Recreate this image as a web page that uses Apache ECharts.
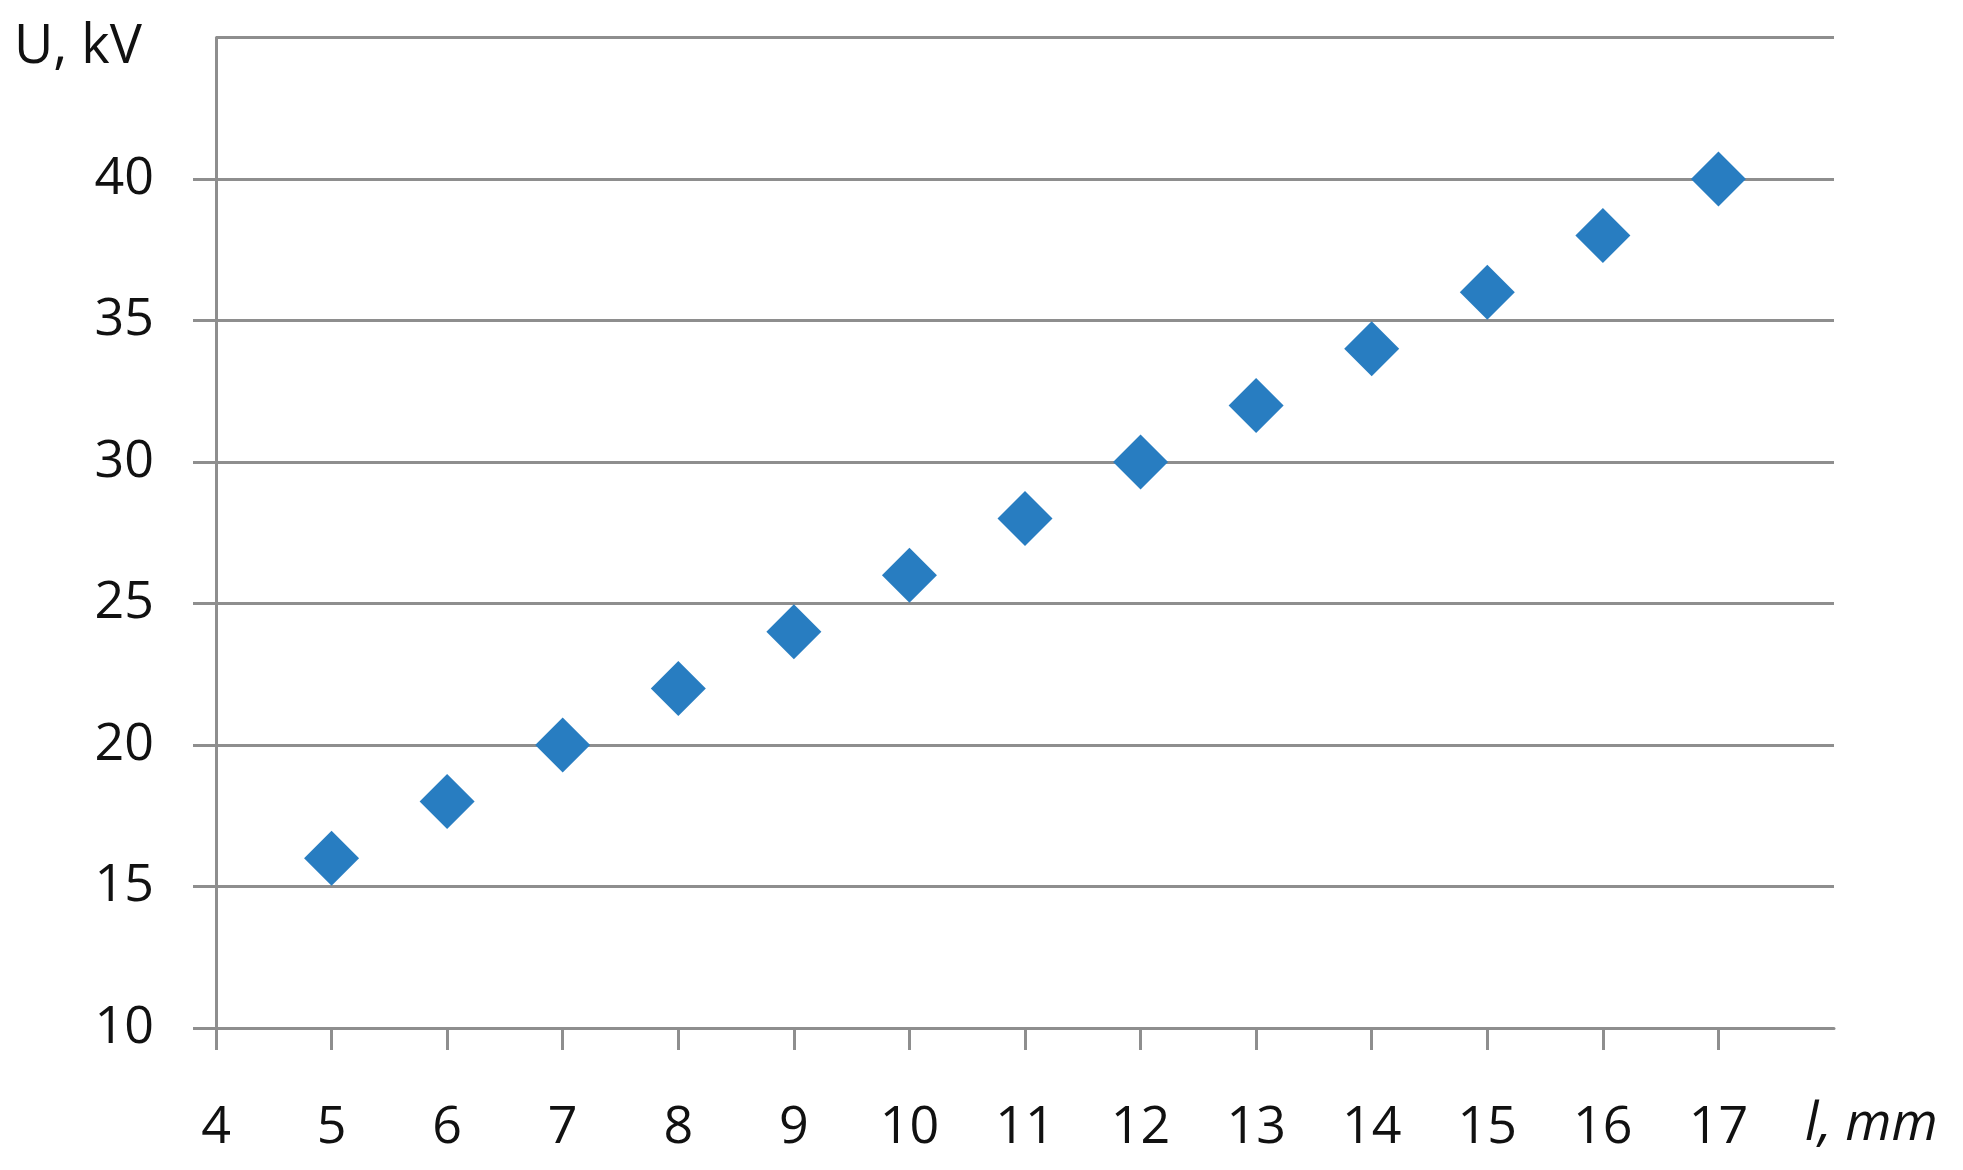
<!DOCTYPE html>
<html>
<head>
<meta charset="utf-8">
<script src="https://cdn.jsdelivr.net/npm/echarts@6/dist/echarts.min.js"></script>
<style>
html,body{margin:0;padding:0;background:#fff;}
#chart{width:1963px;height:1170px;}
</style>
</head>
<body>
<div id="chart"></div>
<script>
const lengthsMm = [5, 6, 7, 8, 9, 10, 11, 12, 13, 14, 15, 16, 17];
const voltagesKv = [16, 18, 20, 22, 24, 26, 28, 30, 32, 34, 36, 38, 40];
const xAxisName = 'l, mm';
const yAxisName = 'U, kV';

const points = lengthsMm.map((x, i) => [x, voltagesKv[i]]);
const FONT = '"Open Sans", "Noto Sans", sans-serif';
const AXIS_COLOR = '#8e8e8e';

const chart = echarts.init(document.getElementById('chart'), null, {renderer: 'canvas'});
chart.setOption({
  backgroundColor: '#ffffff',
  animation: false,
  title: {
    text: yAxisName,
    left: 14,
    top: 21,
    padding: 0,
    textStyle: {fontFamily: FONT, fontSize: 54, fontWeight: 'normal', color: '#111'}
  },
  grid: {left: 216, right: 129, top: 37.5, bottom: 142, containLabel: false},
  xAxis: {
    type: 'value',
    min: 4, max: 18, interval: 1,
    name: xAxisName,
    nameLocation: 'end',
    nameGap: -29,
    nameTextStyle: {
      fontFamily: FONT, fontSize: 53, fontStyle: 'italic', color: '#111',
      align: 'left', verticalAlign: 'top', padding: [70, 0, 0, 0]
    },
    axisLine: {show: true, lineStyle: {color: AXIS_COLOR, width: 3}},
    axisTick: {show: true, length: 22, inside: false, lineStyle: {color: AXIS_COLOR, width: 3}},
    axisLabel: {
      showMaxLabel: false,
      margin: 74,
      fontFamily: FONT, fontSize: 52, color: '#111'
    },
    splitLine: {show: false}
  },
  yAxis: {
    type: 'value',
    min: 10, max: 45, interval: 5,
    axisLine: {show: true, lineStyle: {color: AXIS_COLOR, width: 3}},
    axisTick: {show: true, length: 23, inside: false, lineStyle: {color: AXIS_COLOR, width: 3}},
    axisLabel: {
      showMaxLabel: false,
      margin: 62,
      fontFamily: FONT, fontSize: 52, color: '#111'
    },
    splitLine: {show: true, lineStyle: {color: AXIS_COLOR, width: 3}}
  },
  series: [{
    type: 'scatter',
    data: points,
    symbol: 'diamond',
    symbolSize: 55,
    itemStyle: {color: '#287DC1', opacity: 1}
  }]
});
</script>
</body>
</html>
